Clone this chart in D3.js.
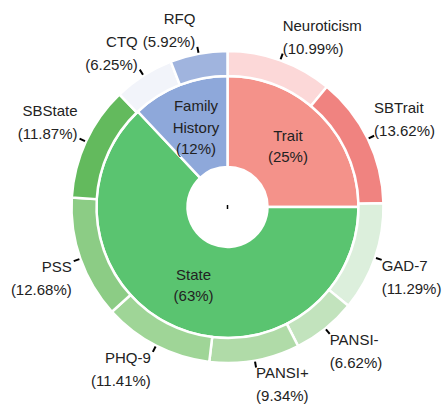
<!DOCTYPE html>
<html>
<head>
<meta charset="utf-8">
<script src="https://cdn.jsdelivr.net/npm/d3@7"></script>
<style>
  body { margin: 0; background: #fff; }
  text { font-family: "Liberation Sans", Arial, sans-serif; font-size: 15px; fill: #222; }
</style>
</head>
<body>
<div id="chart"></div>
<script>
// inner ring
const groups = ["Trait", "State", "Family\nHistory"];
const groupValues = [25, 63, 12];
const groupColors = ["#f4928a", "#5ac470", "#8ea8da"];

// outer ring
const items = ["Neuroticism", "SBTrait", "GAD-7", "PANSI-", "PANSI+", "PHQ-9", "PSS", "SBState", "CTQ", "RFQ"];
const itemValues = [10.99, 13.62, 11.29, 6.62, 9.34, 11.41, 12.68, 11.87, 6.25, 5.92];
const itemColors = ["#fcd8d8", "#f08380", "#dcefdc", "#c2e3bd", "#b0dba8", "#9fd597", "#8ccc85", "#63ba5d", "#f2f4fa", "#a0b4de"];

const width = 444, height = 405;
const cx = 227.5, cy = 207;
const rHole = 40, rMid = 131, rOut = 156;

const svg = d3.select("#chart").append("svg")
    .attr("width", width)
    .attr("height", height);

const g = svg.append("g").attr("transform", `translate(${cx},${cy})`);

const pie = d3.pie().sort(null).value(d => d);

const innerArc = d3.arc().innerRadius(rHole).outerRadius(rMid);
const outerArc = d3.arc().innerRadius(rMid).outerRadius(rOut);

const innerSlices = pie(groupValues);
const outerSlices = pie(itemValues);

g.selectAll("path.inner")
    .data(innerSlices)
    .enter().append("path")
    .attr("class", "inner")
    .attr("d", innerArc)
    .attr("fill", (d, i) => groupColors[i])
    .attr("stroke", "#fff")
    .attr("stroke-width", 2.5);

g.selectAll("path.outer")
    .data(outerSlices)
    .enter().append("path")
    .attr("class", "outer")
    .attr("d", outerArc)
    .attr("fill", (d, i) => itemColors[i])
    .attr("stroke", "#fff")
    .attr("stroke-width", 2.5);

// inner labels, centred on the slice centroid
const lh = 21.5;
innerSlices.forEach((d, i) => {
    const [x, y] = innerArc.centroid(d);
    const lines = groups[i].split("\n").concat(`(${groupValues[i]}%)`);
    const t = g.append("text")
        .attr("text-anchor", "middle")
        .attr("x", x)
        .attr("y", y - (lines.length - 1) * lh / 2 + 5);
    lines.forEach((s, k) => {
        t.append("tspan").attr("x", x).attr("dy", k === 0 ? 0 : lh).text(s);
    });
});

// outer labels with short leader ticks
outerSlices.forEach((d, i) => {
    const a = (d.startAngle + d.endAngle) / 2;
    const sx = Math.sin(a), sy = -Math.cos(a);
    g.append("line")
        .attr("x1", sx * 157).attr("y1", sy * 157)
        .attr("x2", sx * 163).attr("y2", sy * 163)
        .attr("stroke", "#000")
        .attr("stroke-width", 2);
    const x = sx * 163 + (sx >= 0 ? 0 : -2);
    const y = sy * 163;
    const lines = [items[i], `(${itemValues[i].toFixed(2)}%)`];
    const t = g.append("text")
        .attr("text-anchor", sx >= 0 ? "start" : "end");
    const y0 = sy < 0 ? y - lh - 1 : y + 11;
    lines.forEach((s, k) => {
        t.append("tspan").attr("x", x).attr("y", y0 + k * lh + (k ? 1.5 : 0)).text(s);
    });
});

// centre mark
g.append("line")
    .attr("x1", 0).attr("y1", -2)
    .attr("x2", 0).attr("y2", 2)
    .attr("stroke", "#000")
    .attr("stroke-width", 1.5);
</script>
</body>
</html>
